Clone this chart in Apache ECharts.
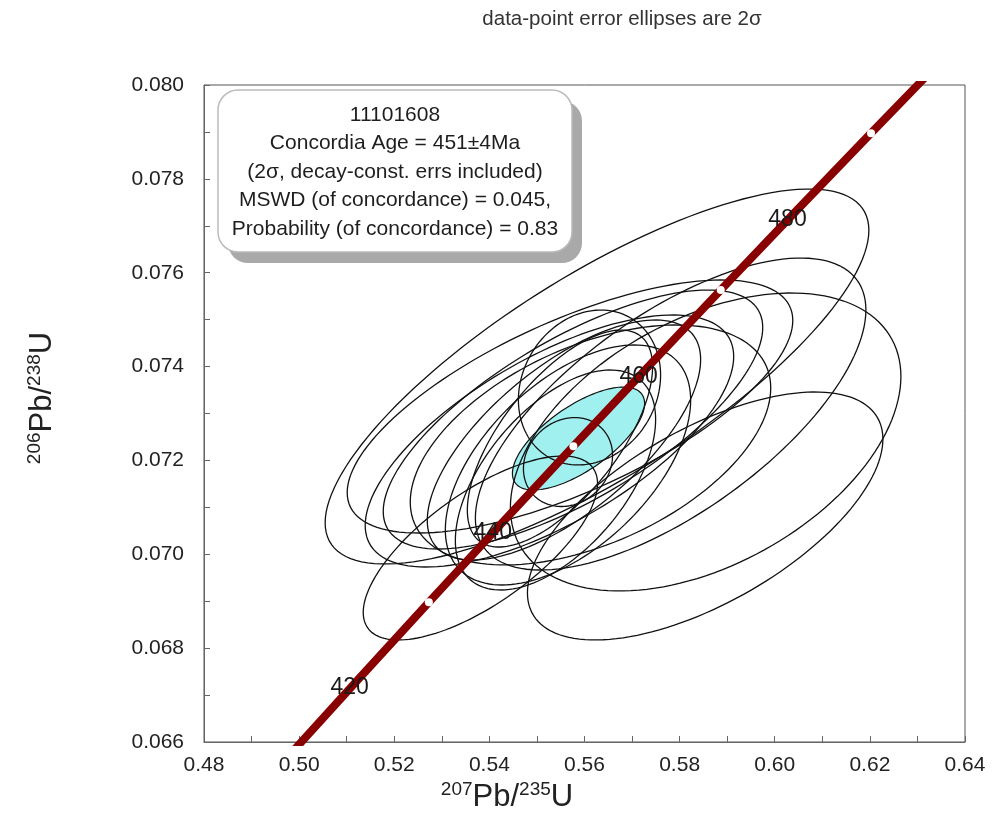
<!DOCTYPE html>
<html><head><meta charset="utf-8">
<script src="https://cdn.jsdelivr.net/npm/echarts@6/dist/echarts.min.js"></script>
<style>html,body{margin:0;padding:0;background:#fff}#c{width:993px;height:816px}</style>
</head><body><div id="c"></div>
<script>
// Concordia curve (age in Ma, 207Pb/235U, 206Pb/238U)
const concordiaAge = [410, 420, 430, 440, 450, 460, 470, 480, 490, 500];
const concordiaX = [0.497487, 0.512308, 0.527275, 0.542392, 0.557656, 0.573074, 0.588642, 0.604365, 0.620245, 0.636280];
const concordiaY = [0.065667, 0.067322, 0.068979, 0.070638, 0.072300, 0.073965, 0.075633, 0.077302, 0.078974, 0.080651];
const labeledAges = [420, 440, 460, 480];
const markerAges = [430, 450, 470, 490];

// Data-point error ellipses (2 sigma): centre, half-widths, correlation
const ellX   = [0.55653, 0.58537, 0.56263, 0.57811, 0.58547, 0.53811, 0.55695, 0.55758, 0.55263, 0.56126, 0.55568, 0.55653, 0.55390, 0.55484, 0.56105];
const ellY   = [0.071966, 0.070816, 0.073788, 0.072989, 0.072393, 0.070134, 0.073149, 0.072872, 0.072414, 0.072329, 0.072435, 0.071903, 0.071583, 0.072467, 0.073554];
const ellSX  = [0.009368, 0.037368, 0.057158, 0.041053, 0.041053, 0.024632, 0.046842, 0.039895, 0.038737, 0.037895, 0.028737, 0.025789, 0.021053, 0.019474, 0.014947];
const ellSY  = [0.000948, 0.002642, 0.003995, 0.003324, 0.003175, 0.001960, 0.002696, 0.002759, 0.002685, 0.002557, 0.002557, 0.002557, 0.002344, 0.002312, 0.001651];
const ellRho = [0.15, 0.62, 0.78, 0.667, 0.44, 0.70, 0.68, 0.71, 0.67, 0.475, 0.67, 0.54, 0.55, 0.66, 0.16];

// Concordia age ellipse
const meanX = 0.55874, meanY = 0.072467, meanSX = 0.013895, meanSY = 0.001097, meanRho = 0.68;

const boxLines = ['11101608', 'Concordia Age = 451\u00b14Ma', '(2\u03c3, decay-const. errs included)', 'MSWD (of concordance) = 0.045,', 'Probability (of concordance) = 0.83'];

const FONT = '"Liberation Sans", Arial, sans-serif';
const chart = echarts.init(document.getElementById('c'));

function ageIdx(a){ return concordiaAge.indexOf(a); }
const ellData = ellX.map((v, i) => [v, ellY[i], ellSX[i], ellSY[i], ellRho[i]]);

function ellipseRender(fill, lw){
  return function(params, api){
    const cx = api.value(0), cy = api.value(1), sx = api.value(2), sy = api.value(3), r = api.value(4);
    const q = Math.sqrt(1 - r * r);
    const pts = [];
    for (let i = 0; i <= 144; i++) {
      const t = i / 144 * Math.PI * 2;
      pts.push(api.coord([cx + sx * Math.cos(t), cy + sy * (r * Math.cos(t) + q * Math.sin(t))]));
    }
    return {type: 'polygon', shape: {points: pts}, style: {fill: fill, stroke: '#111', lineWidth: lw}};
  };
}

const boxGraphics = boxLines.map((t, i) => ({
  type: 'text', x: 395, y: 115 + i * 28.5, z: 102,
  style: {text: t, font: '21px ' + FONT, fill: '#1e1e1e', textAlign: 'center', textVerticalAlign: 'middle', align: 'center', verticalAlign: 'middle'}
}));

chart.setOption({
  animation: false,
  grid: {left: 204, top: 85, width: 761, height: 657, show: true, borderColor: '#555', borderWidth: 1},
  xAxis: {
    type: 'value', min: 0.48, max: 0.64, interval: 0.02,
    axisLine: {onZero: false, lineStyle: {color: '#666'}},
    axisTick: {inside: true, length: 6, lineStyle: {color: '#666'}},
    minorTick: {show: true, splitNumber: 2, length: 6, lineStyle: {color: '#666'}},
    splitLine: {show: false},
    axisLabel: {formatter: v => v.toFixed(2), fontSize: 21, color: '#222', fontFamily: FONT, margin: 13}
  },
  yAxis: {
    type: 'value', min: 0.066, max: 0.080, interval: 0.002,
    axisLine: {onZero: false, lineStyle: {color: '#666'}},
    axisTick: {inside: true, length: 6, lineStyle: {color: '#666'}},
    minorTick: {show: true, splitNumber: 2, length: 6, lineStyle: {color: '#666'}},
    splitLine: {show: false},
    axisLabel: {formatter: v => v.toFixed(3), fontSize: 21, color: '#222', fontFamily: FONT, margin: 20}
  },
  series: [
    {type: 'custom', z: 1, renderItem: ellipseRender('#a0f0f0', 1.2), encode: {x: 0, y: 1},
     data: [[meanX, meanY, meanSX, meanSY, meanRho]], silent: true},
    {type: 'custom', z: 2, renderItem: ellipseRender('none', 1.3), encode: {x: 0, y: 1},
     data: ellData, silent: true},
    {type: 'line', z: 5, symbol: 'none', clip: true,
     data: concordiaX.map((v, i) => [v, concordiaY[i]]),
     lineStyle: {color: '#880000', width: 8}},
    {type: 'scatter', z: 6, symbol: 'circle', symbolSize: 8, itemStyle: {color: '#fff', opacity: 1},
     data: markerAges.map(a => [concordiaX[ageIdx(a)], concordiaY[ageIdx(a)]])},
    {type: 'scatter', z: 7, symbolSize: 0, itemStyle: {opacity: 1},
     data: labeledAges.map(a => ({value: [concordiaX[ageIdx(a)], concordiaY[ageIdx(a)]], name: String(a)})),
     label: {show: true, position: 'inside', offset: [-8, 8], formatter: p => p.name, fontSize: 23, color: '#1a1a1a', fontFamily: FONT}}
  ],
  graphic: [
    {type: 'text', x: 622, y: 19, style: {text: 'data-point error ellipses are 2\u03c3', font: '20.5px ' + FONT, fill: '#333', textAlign: 'center', textVerticalAlign: 'middle', align: 'center', verticalAlign: 'middle'}},
    {type: 'rect', z: 100, shape: {x: 228, y: 101, width: 354, height: 162, r: 20}, style: {fill: '#a9a9a9'}},
    {type: 'rect', z: 101, shape: {x: 218, y: 90, width: 354, height: 162, r: 20}, style: {fill: '#fff', stroke: '#bbb', lineWidth: 1.5}},
    ...boxGraphics,
    {type: 'text', x: 507, y: 797, style: {text: '{s|207}{n|Pb/}{s|235}{n|U}', textAlign: 'center', textVerticalAlign: 'middle', align: 'center', verticalAlign: 'middle',
      rich: {s: {fontSize: 19, fontFamily: FONT, fill: '#222', color: '#222', verticalAlign: 'top', lineHeight: 34}, n: {fontSize: 31, fontFamily: FONT, fill: '#222', color: '#222', lineHeight: 34}}}},
    {type: 'text', x: 42, y: 398, rotation: Math.PI / 2, style: {text: '{s|206}{n|Pb/}{s|238}{n|U}', textAlign: 'center', textVerticalAlign: 'middle', align: 'center', verticalAlign: 'middle',
      rich: {s: {fontSize: 19, fontFamily: FONT, fill: '#222', color: '#222', verticalAlign: 'top', lineHeight: 34}, n: {fontSize: 31, fontFamily: FONT, fill: '#222', color: '#222', lineHeight: 34}}}}
  ]
});
</script></body></html>
